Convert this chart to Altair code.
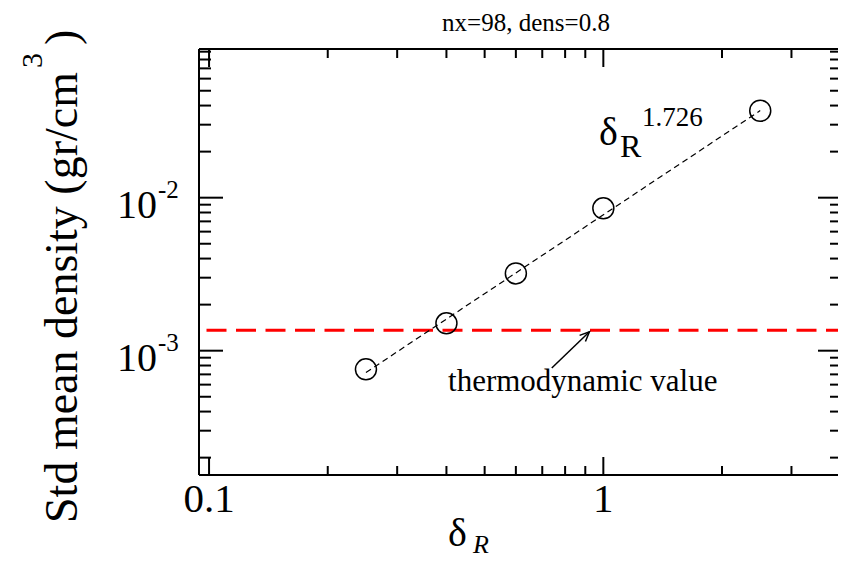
import altair as alt
import pandas as pd

# ---- data ----
delta_r = [0.25, 0.4, 0.6, 1.0, 2.5]
std_density = [7.55e-4, 1.51e-3, 3.2e-3, 8.52e-3, 0.0370]
fit_x = [0.25, 2.5]
fit_y = [7.2e-4, 0.0371]
thermo_value = [1.36e-3]

x_major = [0.1, 1.0]
x_major_labels = ["0.1", "1"]
x_minor = [0.2, 0.3, 0.4, 0.5, 0.6, 0.7, 0.8, 0.9, 2.0, 3.0]
y_major = [1e-3, 1e-2]
y_major_exp = ["-3", "-2"]
y_minor = [2e-4, 3e-4, 4e-4, 5e-4, 6e-4, 7e-4, 8e-4, 9e-4,
           2e-3, 3e-3, 4e-3, 5e-3, 6e-3, 7e-3, 8e-3, 9e-3,
           2e-2, 3e-2, 4e-2, 5e-2, 6e-2, 7e-2, 8e-2, 9e-2]

arrow_x = [0.74]
arrow_y = [7.7e-4]
arrow_x2 = [0.922]
arrow_y2 = [1.33e-3]

ann_text = ["\u03b4", "R", "1.726", "thermodynamic value"]
ann_x = [0.975, 1.102, 1.2536, 0.4038]
ann_y = [0.02211, 0.01837, 0.02955, 5.48e-4]

X_DOMAIN = [0.0943, 3.937]
Y_DOMAIN = [1.54e-4, 0.0937]
W, H = 639, 426
FONT = "Liberation Serif"


def X(field="x"):
    return alt.X(f"{field}:Q", scale=alt.Scale(type="log", domain=X_DOMAIN, nice=False), axis=None)


def Y(field="y"):
    return alt.Y(f"{field}:Q", scale=alt.Scale(type="log", domain=Y_DOMAIN, nice=False), axis=None)


one = pd.DataFrame({"a": [0]})
layers = []

# thermodynamic reference line
layers.append(
    alt.Chart(pd.DataFrame({"y": thermo_value}))
    .mark_rule(color="#ff0000", strokeWidth=3, strokeDash=[20, 9.5], strokeDashOffset=22)
    .encode(y=Y(), x=alt.value(0), x2=alt.value(W))
)

# power-law fit
layers.append(
    alt.Chart(pd.DataFrame({"x": fit_x, "y": fit_y}))
    .mark_line(color="black", strokeWidth=1.2, strokeDash=[6, 4])
    .encode(x=X(), y=Y())
)

# data points
layers.append(
    alt.Chart(pd.DataFrame({"x": delta_r, "y": std_density}))
    .mark_point(shape="circle", filled=False, size=441, color="black", strokeWidth=1.5, opacity=1)
    .encode(x=X(), y=Y())
)

# arrow
arrow_df = pd.DataFrame({"x": arrow_x, "y": arrow_y, "x2": arrow_x2, "y2": arrow_y2})
layers.append(
    alt.Chart(arrow_df).mark_rule(color="black", strokeWidth=1.5)
    .encode(x=X(), y=Y(), x2=alt.X2("x2:Q"), y2=alt.Y2("y2:Q"))
)
layers.append(
    alt.Chart(arrow_df)
    .mark_point(shape="M-0.35,0.8L0,0L0.35,0.8", filled=False, size=576, color="black",
                strokeWidth=1.5, angle=46, opacity=1)
    .encode(x=X("x2"), y=Y("y2"))
)

# ticks (inward, on all sides)
def xticks(vals, length):
    df = pd.DataFrame({"x": vals})
    bottom = alt.Chart(df).mark_rule(color="black", strokeWidth=2).encode(
        x=X(), y=alt.value(H), y2=alt.value(H - length))
    top = alt.Chart(df).mark_rule(color="black", strokeWidth=2).encode(
        x=X(), y=alt.value(0), y2=alt.value(length))
    return [bottom, top]


def yticks(vals, left_len, right_len):
    df = pd.DataFrame({"y": vals})
    left = alt.Chart(df).mark_rule(color="black", strokeWidth=2).encode(
        y=Y(), x=alt.value(0), x2=alt.value(left_len))
    right = alt.Chart(df).mark_rule(color="black", strokeWidth=2).encode(
        y=Y(), x=alt.value(W), x2=alt.value(W - right_len))
    return [left, right]


layers += xticks(x_major, 18) + xticks(x_minor, 9)
layers += yticks(y_major, 24, 20) + yticks(y_minor, 12, 8)

# frame (left, top, bottom)
layers.append(alt.Chart(one).mark_rule(color="black", strokeWidth=2).encode(
    x=alt.value(0), y=alt.value(0), y2=alt.value(H)))
layers.append(alt.Chart(one).mark_rule(color="black", strokeWidth=2).encode(
    x=alt.value(0), x2=alt.value(W), y=alt.value(0)))
layers.append(alt.Chart(one).mark_rule(color="black", strokeWidth=2).encode(
    x=alt.value(0), x2=alt.value(W), y=alt.value(H)))

# x tick labels
layers.append(
    alt.Chart(pd.DataFrame({"x": x_major, "label": x_major_labels}))
    .mark_text(font=FONT, fontSize=41, align="center", baseline="alphabetic", color="black")
    .encode(x=X(), y=alt.value(H + 37), text="label:N")
)

# y tick labels: 10 with superscript exponent
ylab = pd.DataFrame({"y": y_major, "base": ["10", "10"], "exp": y_major_exp})
layers.append(
    alt.Chart(ylab).mark_text(font=FONT, fontSize=40, align="right", baseline="alphabetic",
                              dy=20.5, color="black")
    .encode(x=alt.value(-42), y=Y(), text="base:N")
)
layers.append(
    alt.Chart(ylab).mark_text(font=FONT, fontSize=25, align="left", baseline="alphabetic",
                              dy=0, color="black")
    .encode(x=alt.value(-41), y=Y(), text="exp:N")
)

# annotations in data coordinates
ann = pd.DataFrame({"x": ann_x, "y": ann_y, "t": ann_text})
ann_sizes = [40, 32, 27, 31]
for i, fs in enumerate(ann_sizes):
    layers.append(
        alt.Chart(ann.iloc[[i]]).mark_text(font=FONT, fontSize=fs, align="left",
                                           baseline="alphabetic", color="black")
        .encode(x=X(), y=Y(), text="t:N")
    )

# chart title
layers.append(alt.Chart(one).mark_text(font=FONT, fontSize=25, align="center", baseline="alphabetic",
                                       color="black")
              .encode(x=alt.value(327), y=alt.value(-18), text=alt.value("nx=98, dens=0.8")))

# x axis title: delta with italic subscript R
layers.append(alt.Chart(one).mark_text(font=FONT, fontSize=40, align="left", baseline="alphabetic",
                                       color="black")
              .encode(x=alt.value(249), y=alt.value(497), text=alt.value("\u03b4")))
layers.append(alt.Chart(one).mark_text(font=FONT, fontSize=26, fontStyle="italic", align="left",
                                       baseline="alphabetic", color="black")
              .encode(x=alt.value(274), y=alt.value(504), text=alt.value("R")))

# y axis title (rotated) with superscript 3
layers.append(alt.Chart(one).mark_text(font=FONT, fontSize=46, angle=270, align="right",
                                       baseline="alphabetic", color="black")
              .encode(x=alt.value(-122), y=alt.value(23), text=alt.value("Std mean density (gr/cm")))
layers.append(alt.Chart(one).mark_text(font=FONT, fontSize=30, angle=270, align="left",
                                       baseline="alphabetic", color="black")
              .encode(x=alt.value(-157), y=alt.value(19), text=alt.value("3")))
layers.append(alt.Chart(one).mark_text(font=FONT, fontSize=46, angle=270, align="left",
                                       baseline="alphabetic", color="black")
              .encode(x=alt.value(-122), y=alt.value(-4), text=alt.value(")")))

chart = (
    alt.layer(*layers)
    .properties(width=W, height=H, autosize=alt.AutoSizeParams(type="none"),
                padding={"left": 191, "top": 41, "right": 0, "bottom": 83},
                background="white")
    .configure_view(stroke=None)
)

chart.save("out.html", embed_options={"renderer": "svg", "actions": False})
